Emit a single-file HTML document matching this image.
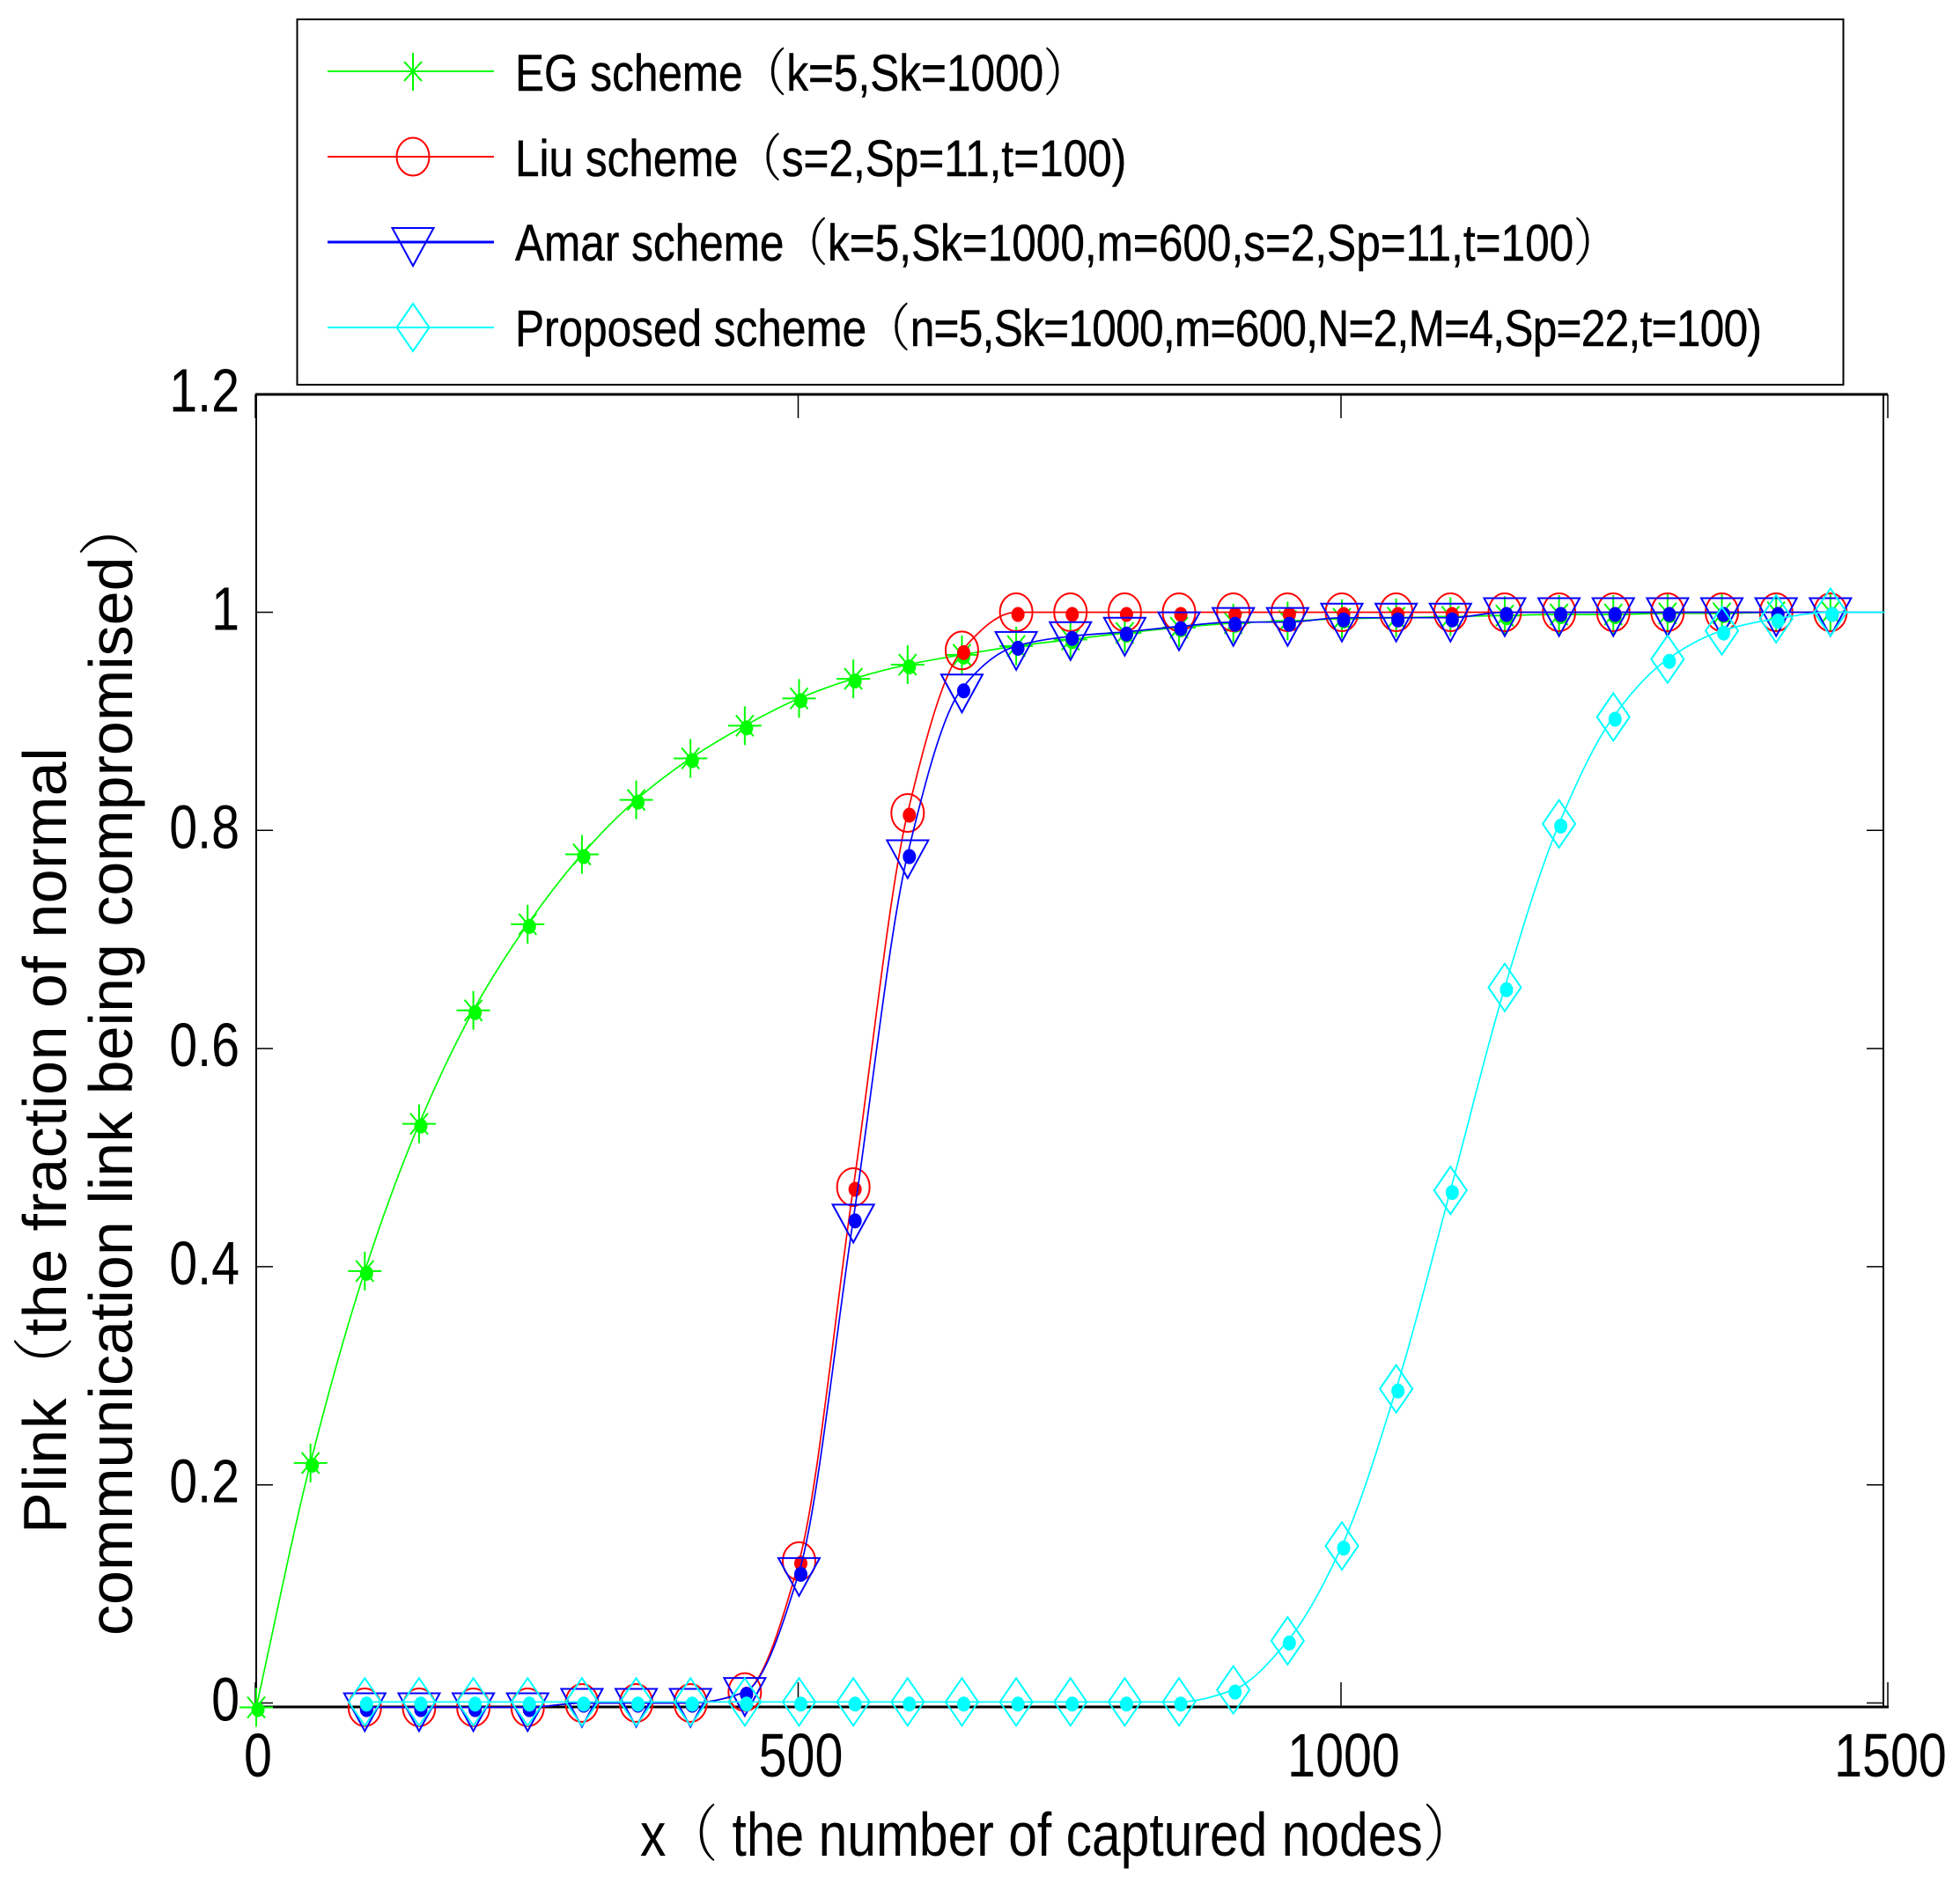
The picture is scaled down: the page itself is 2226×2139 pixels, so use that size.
<!DOCTYPE html>
<html>
<head>
<meta charset="utf-8">
<title>Plink chart</title>
<style>
html,body{margin:0;padding:0;background:#fff;}
svg{display:block;}
text{font-family:"Liberation Sans","Noto Sans CJK SC",sans-serif;fill:#000;}
.cjk{font-family:"Noto Serif CJK SC","Noto Sans CJK SC",sans-serif;font-weight:300;}
.legend-text{stroke:#000;stroke-width:.5px;}
</style>
</head>
<body>
<svg id="chart" xmlns="http://www.w3.org/2000/svg" width="2226" height="2139" viewBox="0 0 2226 2139">
  <rect x="0" y="0" width="2226" height="2139" fill="#fff"/>
  <g id="axes"></g>
  <g id="plot"></g>

  <g>
    <rect x="337.5" y="22" width="1756" height="415" fill="#fff" stroke="#000" stroke-width="2"/>

    <g fill="none" stroke="#00ff00" stroke-width="2" shape-rendering="crispEdges">
      <line x1="372" y1="81" x2="561" y2="81"/>
      <path d="M469 60V103M459 70L479 92M459 92L479 70"/>
    </g>
    <g fill="none" stroke="#ff0000" stroke-width="2">
      <line x1="372" y1="178" x2="561" y2="178" shape-rendering="crispEdges"/>
      <ellipse cx="469" cy="178" rx="18.5" ry="21.5"/>
    </g>
    <g fill="none" stroke="#0000ff" stroke-width="2">
      <line x1="372" y1="275" x2="561" y2="275" stroke-width="3" shape-rendering="crispEdges"/>
      <path d="M445.5 259H492.5L469 302Z"/>
    </g>
    <g fill="none" stroke="#00ffff" stroke-width="2">
      <line x1="372" y1="372" x2="561" y2="372" shape-rendering="crispEdges"/>
      <path d="M469 345L487.5 372L469 399L450.5 372Z"/>
    </g>

    <text class="legend-text" transform="translate(585,103) scale(.854,1)" font-size="58">EG scheme<tspan class="cjk">（</tspan>k=5,Sk=1000<tspan class="cjk">）</tspan></text>
    <text class="legend-text" transform="translate(585,200) scale(.854,1)" font-size="58">Liu scheme<tspan class="cjk">（</tspan>s=2,Sp=11,t=100)</text>
    <text class="legend-text" transform="translate(585,296) scale(.854,1)" font-size="58">Amar scheme<tspan class="cjk">（</tspan>k=5,Sk=1000,m=600,s=2,Sp=11,t=100<tspan class="cjk">）</tspan></text>
    <text class="legend-text" transform="translate(585,393) scale(.854,1)" font-size="58">Proposed scheme<tspan class="cjk">（</tspan><tspan letter-spacing="-0.8">n=5,Sk=1000,m=600,N=2,M=4,Sp=22,t=100)</tspan></text>
  </g>

  <text transform="translate(727,2108) scale(.84,1)" font-size="70">x<tspan class="cjk">（</tspan> the number of captured nodes<tspan class="cjk">）</tspan></text>
  <text transform="translate(75,1742) rotate(-90)" font-size="70" letter-spacing="0.5">Plink<tspan class="cjk">（</tspan>the fraction of normal</text>
  <text transform="translate(150,1858) rotate(-90)" font-size="70">communication link being compromised<tspan class="cjk">）</tspan></text>
</svg>

<script>
const xTickValues = [0, 500, 1000, 1500];
const xTickLabels = ["0", "500", "1000", "1500"];
const yTickValues = [0, 0.2, 0.4, 0.6, 0.8, 1, 1.2];
const yTickLabels = ["0", "0.2", "0.4", "0.6", "0.8", "1", "1.2"];

const egX = [0,50,100,150,200,250,300,350,400,450,500,550,600,650,700,750,800,850,900,950,1000,1050,1100,1150,1200,1250,1300,1350,1400,1450];
const egY = [-0.004,0.22,0.396,0.531,0.635,0.714,0.778,0.828,0.866,0.896,0.921,0.939,0.952,0.961,0.969,0.975,0.981,0.986,0.99,0.992,0.994,0.995,0.996,0.997,0.998,0.998,0.999,0.999,1,1];

const schemeX = [100,150,200,250,300,350,400,450,500,550,600,650,700,750,800,850,900,950,1000,1050,1100,1150,1200,1250,1300,1350,1400,1450];
const liuY = [-0.004,-0.004,-0.004,-0.004,0,0,0,0.01,0.13,0.473,0.816,0.965,1,1,1,1,1,1,1,1,1,1,1,1,1,1,1,1];
const amarY = [-0.004,-0.004,-0.004,-0.004,0,0,0,0.01,0.12,0.444,0.778,0.93,0.969,0.978,0.982,0.987,0.991,0.991,0.995,0.995,0.995,1,1,1,1,1,1,1];
const proposedY = [0.001,0.001,0.001,0.001,0.001,0.001,0.001,0.001,0.001,0.001,0.001,0.001,0.001,0.001,0.001,0.001,0.012,0.057,0.144,0.288,0.47,0.656,0.806,0.904,0.957,0.983,0.994,1];

const lineEndX = 1500;
const lineEndY = 1;

const svgNS = "http://www.w3.org/2000/svg";
const axesGroup = document.getElementById("axes");
const plotGroup = document.getElementById("plot");

function x(v){ return 291 + 1.233 * v; }
function y(v){ return 1934.5 - 1239 * v; }

function el(tag, parent){
  const node = document.createElementNS(svgNS, tag);
  parent.appendChild(node);
  return node;
}

function smoothPath(px, py){
  const n = px.length;
  const d = [], m = new Array(n);
  for(let i = 0; i < n - 1; i++){ d.push((py[i+1] - py[i]) / (px[i+1] - px[i])); }
  m[0] = d[0];
  m[n-1] = d[n-2];
  for(let i = 1; i < n - 1; i++){
    m[i] = d[i-1] * d[i] <= 0 ? 0 : 2 * d[i-1] * d[i] / (d[i-1] + d[i]);
  }
  let s = "M" + px[0].toFixed(1) + " " + py[0].toFixed(1);
  for(let i = 0; i < n - 1; i++){
    const h = (px[i+1] - px[i]) / 3;
    s += "C" + (px[i] + h).toFixed(1) + " " + (py[i] + m[i] * h).toFixed(1) + " " +
         (px[i+1] - h).toFixed(1) + " " + (py[i+1] - m[i+1] * h).toFixed(1) + " " +
         px[i+1].toFixed(1) + " " + py[i+1].toFixed(1);
  }
  return s;
}

function drawSeries(name, xs, ys, color, marker){
  const group = el("g", plotGroup);
  
  

  const px = xs.map(x).concat([x(lineEndX)]);
  const py = ys.map(y).concat([y(lineEndY)]);
  const line = el("path", group);
  
  
  line.setAttribute("d", smoothPath(px, py));
  line.setAttribute("fill", "none");
  line.setAttribute("stroke", color);
  line.setAttribute("stroke-width", "1.7");

  xs.forEach(function(v, i){
    const cx = x(v);
    const cy = y(ys[i]);
    const mark = el(marker === "circle" ? "ellipse" : "path", group);
    
    
    mark.setAttribute("fill", "none");
    mark.setAttribute("stroke", color);
    mark.setAttribute("stroke-width", "2");
    if(marker === "circle"){
      mark.setAttribute("cx", cx);
      mark.setAttribute("cy", cy);
      mark.setAttribute("rx", 18.5);
      mark.setAttribute("ry", 21.5);
    } else if(marker === "star"){
      mark.setAttribute("d", "M" + cx + " " + (cy - 22) + "V" + (cy + 22) +
        "M" + (cx - 19) + " " + cy + "H" + (cx + 19) +
        "M" + (cx - 10) + " " + (cy - 12) + "L" + (cx + 10) + " " + (cy + 12) +
        "M" + (cx - 10) + " " + (cy + 12) + "L" + (cx + 10) + " " + (cy - 12));
    } else if(marker === "triangle"){
      mark.setAttribute("d", "M" + (cx - 23.5) + " " + (cy - 16) + "H" + (cx + 23.5) + "L" + cx + " " + (cy + 27) + "Z");
    } else {
      mark.setAttribute("d", "M" + cx + " " + (cy - 27) + "L" + (cx + 18.5) + " " + cy + "L" + cx + " " + (cy + 27) + "L" + (cx - 18.5) + " " + cy + "Z");
    }

    const dot = el("ellipse", group);
    
    
    dot.setAttribute("cx", cx + 2);
    dot.setAttribute("cy", cy + 2.5);
    dot.setAttribute("rx", 7.5);
    dot.setAttribute("ry", 8.5);
    dot.setAttribute("fill", color);
  });
}

function drawAxes(){
  const frame = el("path", axesGroup);
  
  
  frame.setAttribute("d", "M291 1939V448M2139 1939V448");
  frame.setAttribute("fill", "none");
  frame.setAttribute("stroke", "#000");
  frame.setAttribute("stroke-width", "2");

  const edges = el("path", axesGroup);
  
  
  edges.setAttribute("d", "M290 448H2144M290 1939H2145");
  edges.setAttribute("fill", "none");
  edges.setAttribute("stroke", "#000");
  edges.setAttribute("stroke-width", "3");

  xTickValues.forEach(function(v, i){
    const tick = el("path", axesGroup);
    
    
    const tx = i === 3 ? 2144 : x(v) - 1;
    tick.setAttribute("d", "M" + tx + " 1939V1911M" + tx + " 448V475");
    tick.setAttribute("stroke", "#000");
    tick.setAttribute("stroke-width", "1.5");
    tick.setAttribute("fill", "none");

    const label = el("text", axesGroup);
    
    
    label.setAttribute("transform", "translate(" + (tx + 3) + ",2018) scale(.82,1)");
    label.setAttribute("text-anchor", "middle");
    label.setAttribute("font-size", "70");
    label.textContent = xTickLabels[i];
  });

  yTickValues.forEach(function(v, i){
    const ty = y(v);
    const tick = el("path", axesGroup);
    
    
    tick.setAttribute("d", "M291 " + ty + "H310M2139 " + ty + "H2120");
    tick.setAttribute("stroke", "#000");
    tick.setAttribute("stroke-width", "1.5");
    tick.setAttribute("fill", "none");

    const label = el("text", axesGroup);
    
    
    label.setAttribute("transform", "translate(272," + (ty + 20) + ") scale(.82,1)");
    label.setAttribute("text-anchor", "end");
    label.setAttribute("font-size", "70");
    label.textContent = yTickLabels[i];
  });
}

drawAxes();
drawSeries("eg", egX, egY, "#00ff00", "star");
drawSeries("liu", schemeX, liuY, "#ff0000", "circle");
drawSeries("amar", schemeX, amarY, "#0000ff", "triangle");
drawSeries("proposed", schemeX, proposedY, "#00ffff", "diamond");
</script>
</body>
</html>
